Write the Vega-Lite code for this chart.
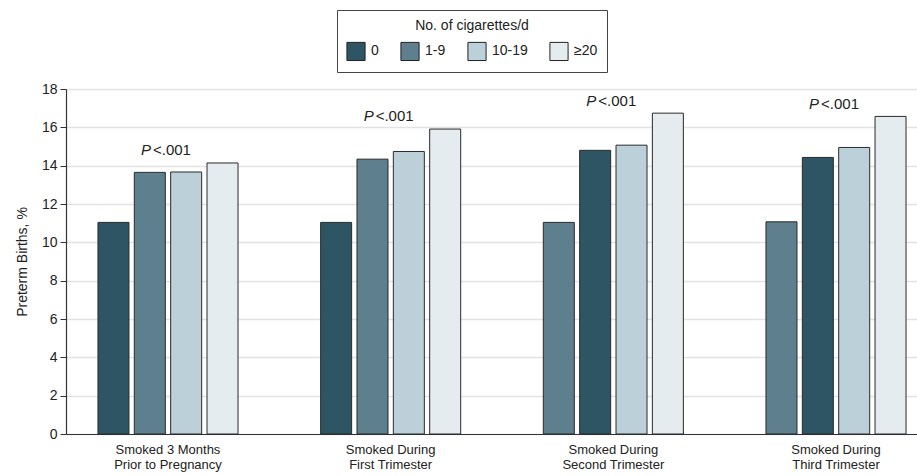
{
  "$schema": "https://vega.github.io/schema/vega-lite/v6.json",
  "width": 851,
  "height": 345,
  "autosize": {"type": "none"},
  "padding": {"left": 66, "top": 89, "right": 0, "bottom": 42},
  "config": {"view": {"stroke": null}, "font": "Liberation Sans", "text": {"color": "#222"}},
  "datasets": {
    "bars": [
      {"group": "Smoked 3 Months\nPrior to Pregnancy", "slot": 1, "cigs": "0", "pct": 11.04},
      {"group": "Smoked 3 Months\nPrior to Pregnancy", "slot": 2, "cigs": "1-9", "pct": 13.65},
      {"group": "Smoked 3 Months\nPrior to Pregnancy", "slot": 3, "cigs": "10-19", "pct": 13.67},
      {"group": "Smoked 3 Months\nPrior to Pregnancy", "slot": 4, "cigs": "≥20", "pct": 14.14},
      {"group": "Smoked During\nFirst Trimester", "slot": 1, "cigs": "0", "pct": 11.04},
      {"group": "Smoked During\nFirst Trimester", "slot": 2, "cigs": "1-9", "pct": 14.34},
      {"group": "Smoked During\nFirst Trimester", "slot": 3, "cigs": "10-19", "pct": 14.74},
      {"group": "Smoked During\nFirst Trimester", "slot": 4, "cigs": "≥20", "pct": 15.91},
      {"group": "Smoked During\nSecond Trimester", "slot": 1, "cigs": "1-9", "pct": 11.04},
      {"group": "Smoked During\nSecond Trimester", "slot": 2, "cigs": "0", "pct": 14.8},
      {"group": "Smoked During\nSecond Trimester", "slot": 3, "cigs": "10-19", "pct": 15.07},
      {"group": "Smoked During\nSecond Trimester", "slot": 4, "cigs": "≥20", "pct": 16.74},
      {"group": "Smoked During\nThird Trimester", "slot": 1, "cigs": "1-9", "pct": 11.07},
      {"group": "Smoked During\nThird Trimester", "slot": 2, "cigs": "0", "pct": 14.43},
      {"group": "Smoked During\nThird Trimester", "slot": 3, "cigs": "10-19", "pct": 14.95},
      {"group": "Smoked During\nThird Trimester", "slot": 4, "cigs": "≥20", "pct": 16.57}
    ],
    "pvals": [
      {"group": "Smoked 3 Months\nPrior to Pregnancy", "y": 14.57, "p": "P", "rest": "<.001"},
      {"group": "Smoked During\nFirst Trimester", "y": 16.35, "p": "P", "rest": "<.001"},
      {"group": "Smoked During\nSecond Trimester", "y": 17.13, "p": "P", "rest": "<.001"},
      {"group": "Smoked During\nThird Trimester", "y": 16.95, "p": "P", "rest": "<.001"}
    ]
  },
  "layer": [
    {
      "data": {"name": "bars"},
      "mark": {"type": "bar", "stroke": "#2a2a2a", "strokeWidth": 1},
      "encoding": {
        "x": {
          "field": "group", "type": "nominal", "sort": null,
          "scale": {"range": [0, 872], "paddingInner": 0.371, "paddingOuter": 0.1435},
          "axis": {
            "title": null, "labelAngle": 0, "ticks": false, "domainColor": "#333", "domainWidth": 1.2,
            "labelFont": "Liberation Sans", "labelFontSize": 13, "labelColor": "#222",
            "labelPadding": 9, "labelLineHeight": 15, "labelBaseline": "top",
            "labelExpr": "split(datum.label, '\\n')"
          }
        },
        "xOffset": {"field": "slot", "type": "ordinal", "scale": {"paddingInner": 0.147, "paddingOuter": 0}},
        "y": {
          "field": "pct", "type": "quantitative",
          "scale": {"domain": [0, 18], "nice": false},
          "axis": {
            "values": [0, 2, 4, 6, 8, 10, 12, 14, 16, 18], "tickCount": 10, "labelOverlap": false,
            "title": "Preterm Births, %", "titleFontSize": 14, "titleFontWeight": "normal", "titleColor": "#222",
            "titlePadding": 12, "labelFontSize": 14, "labelColor": "#222", "labelPadding": 3,
            "tickSize": 6, "tickColor": "#333", "domainColor": "#333", "domainWidth": 1.2,
            "gridColor": "#e2e2e2", "gridWidth": 1.5
          }
        },
        "color": {
          "field": "cigs", "type": "nominal",
          "scale": {"domain": ["0", "1-9", "10-19", "≥20"], "range": ["#2e5563", "#5d7f8e", "#bcd0d9", "#e4ecf0"]},
          "legend": {
            "title": "No. of cigarettes/d", "orient": "none", "legendX": 271, "legendY": -79,
            "direction": "horizontal", "titleAnchor": "middle", "titleFontSize": 14, "titleFontWeight": "normal",
            "titleColor": "#222", "titlePadding": 8, "labelFontSize": 14, "labelColor": "#222",
            "symbolType": "square", "symbolSize": 330, "symbolStrokeColor": "#222", "symbolStrokeWidth": 1,
            "symbolOpacity": 1, "labelOffset": 5, "columnPadding": 19, "padding": 9,
            "strokeColor": "#444", "fillColor": "white"
          }
        }
      }
    },
    {
      "data": {"name": "pvals"},
      "mark": {"type": "text", "fontStyle": "italic", "fontSize": 15, "align": "right", "baseline": "alphabetic", "dx": -17, "color": "#222"},
      "encoding": {
        "x": {"field": "group", "type": "nominal", "sort": null},
        "y": {"field": "y", "type": "quantitative"},
        "text": {"field": "p"}
      }
    },
    {
      "data": {"name": "pvals"},
      "mark": {"type": "text", "fontSize": 15, "align": "left", "baseline": "alphabetic", "dx": -15, "color": "#222"},
      "encoding": {
        "x": {"field": "group", "type": "nominal", "sort": null},
        "y": {"field": "y", "type": "quantitative"},
        "text": {"field": "rest"}
      }
    }
  ]
}
